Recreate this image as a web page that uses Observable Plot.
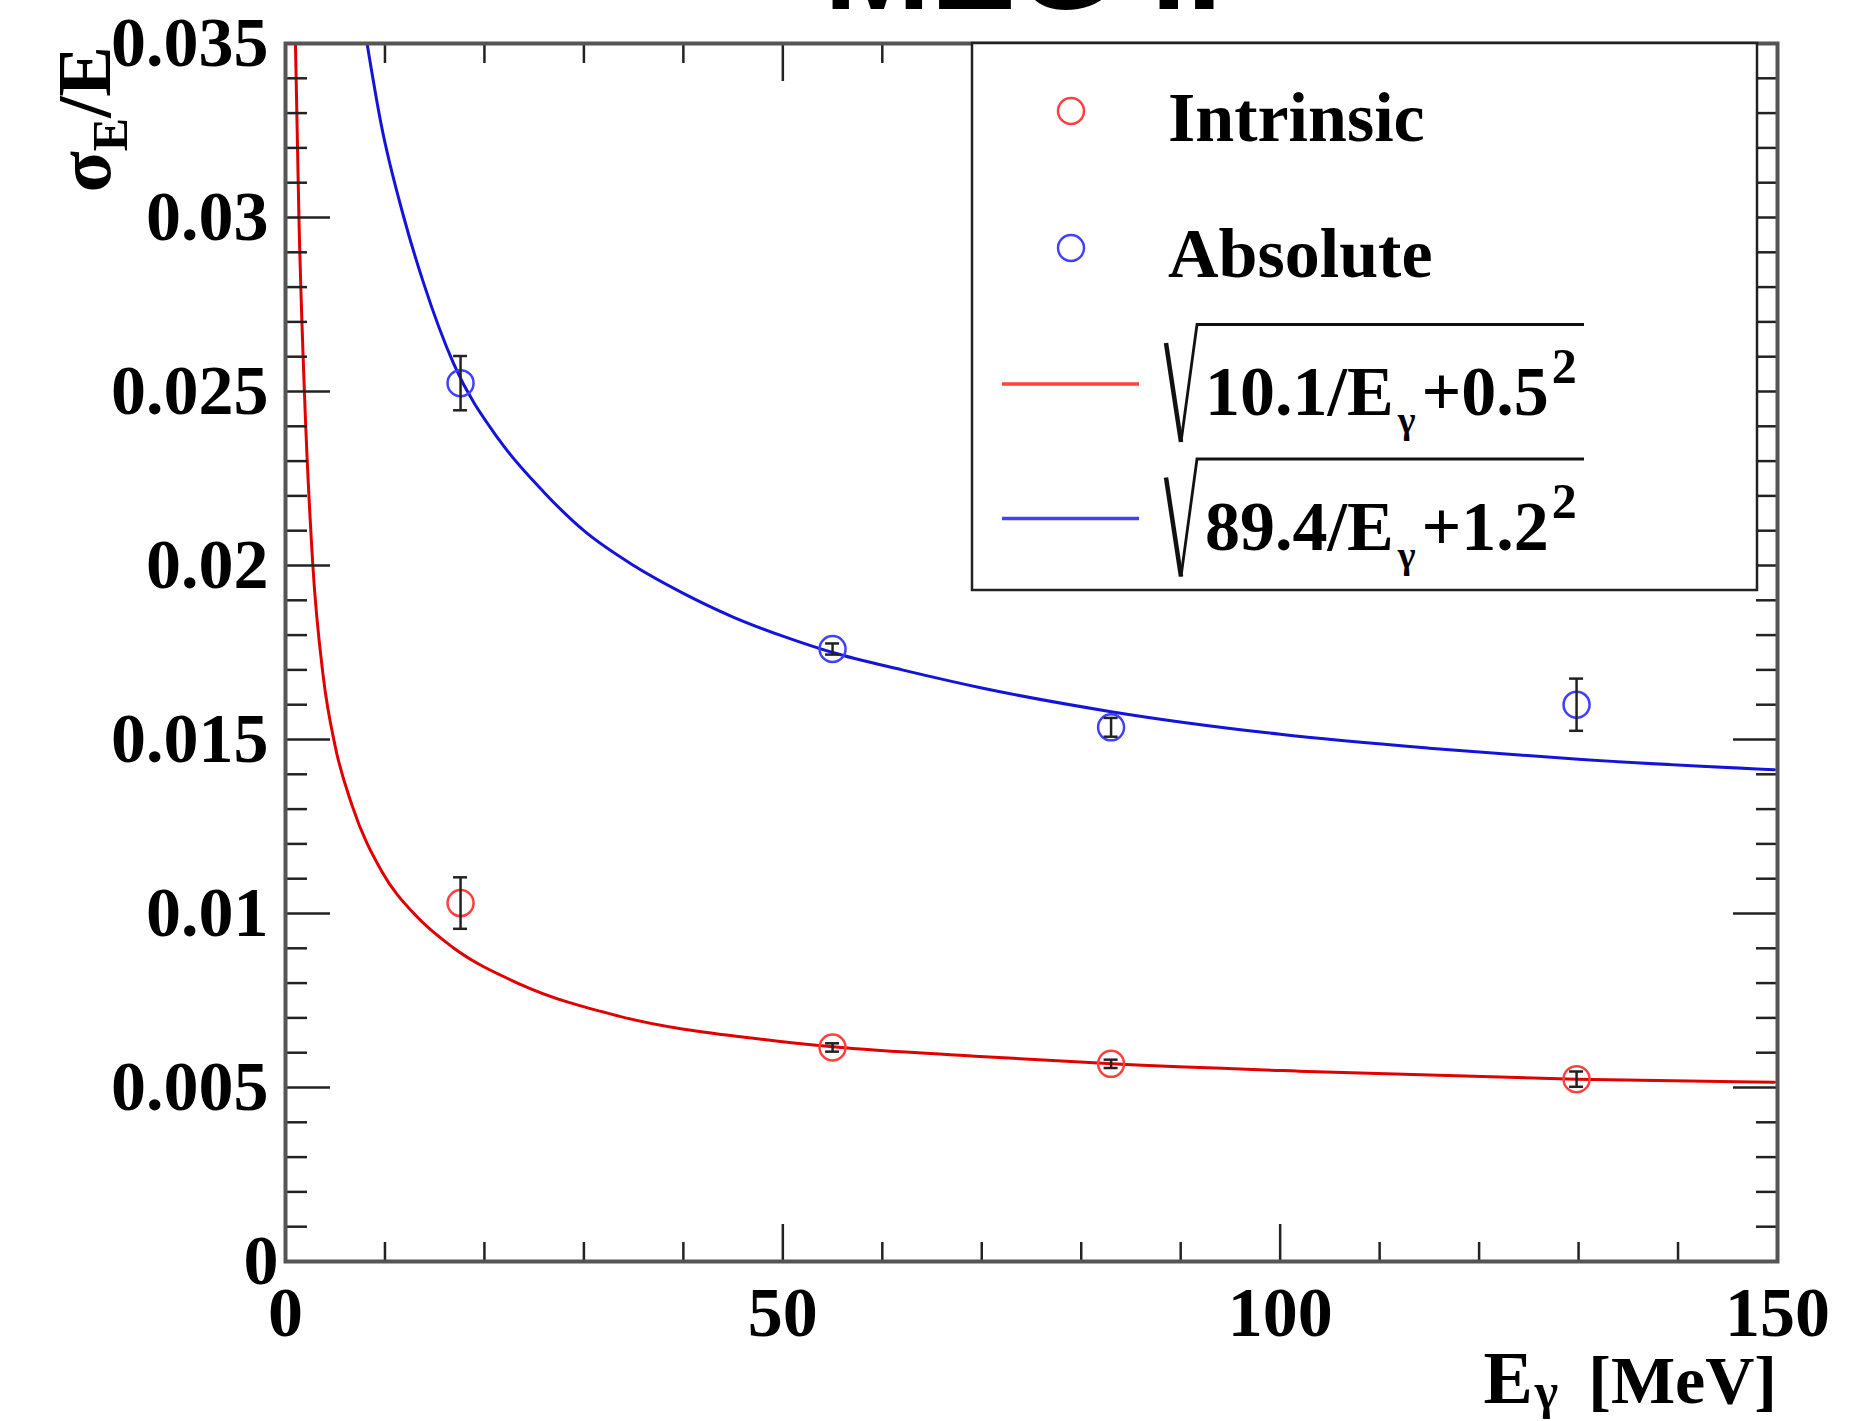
<!DOCTYPE html>
<html>
<head>
<meta charset="utf-8">
<script src="https://cdn.jsdelivr.net/npm/d3@7"></script>
<script src="https://cdn.jsdelivr.net/npm/@observablehq/plot@0.6"></script>
<style>
  html, body { margin: 0; padding: 0; background: #fff; overflow: hidden; }
  #chart { position: relative; width: 1860px; height: 1421px; }
</style>
</head>
<body>
<div id="chart"></div>
<script>
// ---- data ----
const energies = [17.6, 55.0, 83.0, 129.8];                 // E_gamma [MeV]
const intrinsicRes = [0.01030, 0.00615, 0.00568, 0.00524];  // sigma_E/E
const intrinsicErr = [0.00074, 0.00012, 0.00012, 0.00022];
const absoluteRes = [0.02524, 0.01760, 0.01535, 0.01600];
const absoluteErr = [0.00078, 0.00016, 0.00027, 0.00075];

// fitted curves
const intrinsicFitE = [1.0, 1.35, 1.9, 2.75, 3.8, 5.0, 6.7, 9.7, 13.1, 16.8, 23.5, 33.5, 48.3, 55.0, 69.3, 83.1, 101.9, 129.8, 149.7];
const intrinsicFitRes = [0.0350, 0.0300, 0.0250, 0.0200, 0.0168, 0.0148, 0.0131, 0.0112, 0.00994, 0.00903, 0.00798, 0.00705, 0.00637, 0.00617, 0.00590, 0.00568, 0.00547, 0.00524, 0.00515];
const absoluteFitE = [8.2, 9.6, 11.9, 13.9, 16.9, 21.5, 26.0, 30.0, 35.0, 40.0, 45.0, 50.0, 55.0, 62.0, 70.0, 83.0, 100.0, 115.0, 130.0, 149.7];
const absoluteFitRes = [0.0350, 0.0327, 0.0300, 0.0281, 0.0258, 0.0236, 0.0221, 0.0210, 0.0200, 0.0192, 0.01852, 0.01797, 0.0175, 0.0170, 0.01648, 0.0158, 0.01515, 0.01475, 0.01443, 0.01413];

// axes
const xMajorTicks = [0, 50, 100, 150];
const xTickLabels = ["0", "50", "100", "150"];
const xMinorTicks = [10, 20, 30, 40, 60, 70, 80, 90, 110, 120, 130, 140];
const yMajorTicks = [0, 0.005, 0.01, 0.015, 0.02, 0.025, 0.03, 0.035];
const yTickLabels = ["0", "0.005", "0.01", "0.015", "0.02", "0.025", "0.03", "0.035"];
const yMinorTicks = d3.range(1, 35).filter(k => k % 5 !== 0).map(k => k / 1000);

const seriesNames = ["Intrinsic", "Absolute"];
const fitLabels = [["10.1/E", "γ", "+0.5", "2"], ["89.4/E", "γ", "+1.2", "2"]];
const titleText = "MEG II";

// ---- build table ----
const pointsI = energies.map((e, i) => ({e, v: intrinsicRes[i], err: intrinsicErr[i]}));
const pointsA = energies.map((e, i) => ({e, v: absoluteRes[i], err: absoluteErr[i]}));
const allPoints = pointsI.concat(pointsA);
const fitI = intrinsicFitE.map((e, i) => ({e, v: intrinsicFitRes[i]}));
const fitA = absoluteFitE.map((e, i) => ({e, v: absoluteFitRes[i]}));

const SERIF = "'Liberation Serif', 'Times New Roman', serif";
const RED_LINE = "#e00000", BLUE_LINE = "#1414d8";
const RED_MARK = "#ff4040", BLUE_MARK = "#4040ff";
const TICK = {stroke: "#222", strokeWidth: 2.5, fill: "none", label: null};
const LBL = {tickSize: 0, fontSize: 70, fontWeight: "bold", fontFamily: SERIF, fill: "#000", label: null};

const W = 1860, H = 1421;
const plot = Plot.plot({
  width: W, height: H,
  marginLeft: 285, marginRight: 83, marginTop: 43, marginBottom: 160,
  x: {domain: [0, 150]},
  y: {domain: [0, 0.035]},
  style: {background: "white", overflow: "visible", fontFamily: SERIF},
  marks: [
    Plot.line(fitI, {x: "e", y: "v", stroke: RED_LINE, strokeWidth: 3, curve: "monotone-x", clip: true}),
    Plot.line(fitA, {x: "e", y: "v", stroke: BLUE_LINE, strokeWidth: 3, curve: "monotone-x", clip: true}),
    Plot.dot(pointsI, {x: "e", y: "v", r: 13, stroke: RED_MARK, strokeWidth: 2.5, fill: "none"}),
    Plot.dot(pointsA, {x: "e", y: "v", r: 13, stroke: BLUE_MARK, strokeWidth: 2.5, fill: "none"}),
    Plot.ruleX(allPoints, {x: "e", y1: d => d.v - d.err, y2: d => d.v + d.err, stroke: "#222", strokeWidth: 2.5}),
    Plot.ruleY(allPoints, {y: d => d.v + d.err, x1: "e", x2: "e", insetLeft: -7, insetRight: -7, stroke: "#222", strokeWidth: 2.5}),
    Plot.ruleY(allPoints, {y: d => d.v - d.err, x1: "e", x2: "e", insetLeft: -7, insetRight: -7, stroke: "#222", strokeWidth: 2.5}),
    // inward ticks on all four sides
    Plot.axisY(yMajorTicks, {anchor: "left", tickSize: 45, dx: 45, ...TICK}),
    Plot.axisY(yMinorTicks, {anchor: "left", tickSize: 22, dx: 22, ...TICK}),
    Plot.axisY(yMajorTicks, {anchor: "right", tickSize: 45, dx: -45, ...TICK}),
    Plot.axisY(yMinorTicks, {anchor: "right", tickSize: 22, dx: -22, ...TICK}),
    Plot.axisX(xMajorTicks, {anchor: "bottom", tickSize: 37, dy: -37, ...TICK}),
    Plot.axisX(xMinorTicks, {anchor: "bottom", tickSize: 19, dy: -19, ...TICK}),
    Plot.axisX(xMajorTicks, {anchor: "top", tickSize: 37, dy: 37, ...TICK}),
    Plot.axisX(xMinorTicks, {anchor: "top", tickSize: 19, dy: 19, ...TICK}),
    // tick labels
    Plot.axisY(yMajorTicks.slice(1), {anchor: "left", tickPadding: 17, tickFormat: d => yTickLabels[yMajorTicks.indexOf(d)], ...LBL}),
    Plot.axisY(yMajorTicks.slice(0, 1), {anchor: "left", tickPadding: 7, tickFormat: d => yTickLabels[yMajorTicks.indexOf(d)], ...LBL}),
    Plot.axisX(xMajorTicks, {anchor: "bottom", tickPadding: 25, tickFormat: d => xTickLabels[xMajorTicks.indexOf(d)], ...LBL}),
    Plot.frame({stroke: "#555", strokeWidth: 4})
  ]
});
document.getElementById("chart").appendChild(plot);

// ---- titles, legend ----
const svg = d3.select(plot);

// top title (cut by the image edge)
svg.append("text")
  .attr("x", 1023).attr("y", 9)
  .attr("text-anchor", "middle")
  .attr("font-family", "'Liberation Sans', Arial, sans-serif")
  .attr("font-weight", "bold").attr("font-size", 128)
  .attr("fill", "#000")
  .text(titleText);

// y-axis title
const yt = svg.append("text")
  .attr("transform", "translate(110,46) rotate(-90)")
  .attr("text-anchor", "end")
  .attr("font-family", SERIF).attr("font-weight", "bold").attr("font-size", 76)
  .attr("fill", "#000");
yt.append("tspan").text("σ");
yt.append("tspan").attr("font-size", 50).attr("dy", 17).text("E");
yt.append("tspan").attr("dy", -17).text("/E");

// x-axis title
const xt = svg.append("text")
  .attr("x", 1777).attr("y", 1403)
  .attr("text-anchor", "end")
  .attr("font-family", SERIF).attr("font-weight", "bold").attr("font-size", 68)
  .attr("fill", "#000");
xt.append("tspan").attr("font-size", 74).text("E");
xt.append("tspan").attr("font-size", 50).attr("dx", 2).attr("dy", 5).text("γ");
xt.append("tspan").attr("dy", -5).attr("dx", 30).text("[MeV]");

// legend
const lg = svg.append("g")
  .attr("font-family", SERIF).attr("font-weight", "bold").attr("fill", "#000")
  .attr("text-anchor", "start");
lg.append("rect")
  .attr("x", 972).attr("y", 43).attr("width", 785).attr("height", 547)
  .attr("fill", "white").attr("stroke", "#222").attr("stroke-width", 2.5);

const markRows = [
  {name: seriesNames[0], color: RED_MARK, y: 111, ty: 141},
  {name: seriesNames[1], color: BLUE_MARK, y: 248, ty: 277}
];
markRows.forEach(r => {
  lg.append("circle").attr("cx", 1071).attr("cy", r.y).attr("r", 13)
    .attr("fill", "none").attr("stroke", r.color).attr("stroke-width", 2.5);
  lg.append("text").attr("x", 1168).attr("y", r.ty).attr("font-size", 70)
    .attr("text-anchor", "start").text(r.name);
});

const fitRows = [
  {parts: fitLabels[0], color: RED_MARK, top: 324.5},
  {parts: fitLabels[1], color: BLUE_MARK, top: 459}
];
fitRows.forEach(r => {
  const t = r.top;
  lg.append("line").attr("x1", 1002).attr("x2", 1139)
    .attr("y1", t + 59.5).attr("y2", t + 59.5)
    .attr("stroke", r.color).attr("stroke-width", 3.5);
  // radical sign
  lg.append("path").attr("d", `M1166,${t + 18.5} L1181,${t + 117.5}`)
    .attr("stroke", "#111").attr("stroke-width", 4.5).attr("fill", "none");
  lg.append("path").attr("d", `M1181,${t + 117.5} L1197,${t} L1584,${t}`)
    .attr("stroke", "#111").attr("stroke-width", 2.8).attr("fill", "none");
  const ft = lg.append("text").attr("x", 1205).attr("y", t + 90.5).attr("font-size", 70)
    .attr("text-anchor", "start");
  ft.append("tspan").text(r.parts[0]);
  ft.append("tspan").attr("font-size", 38).attr("dx", 4).attr("dy", 18).text(r.parts[1]);
  ft.append("tspan").attr("dx", 6).attr("dy", -18).text(r.parts[2]);
  ft.append("tspan").attr("font-size", 50).attr("dx", 3).attr("dy", -32).text(r.parts[3]);
});
</script>
</body>
</html>
